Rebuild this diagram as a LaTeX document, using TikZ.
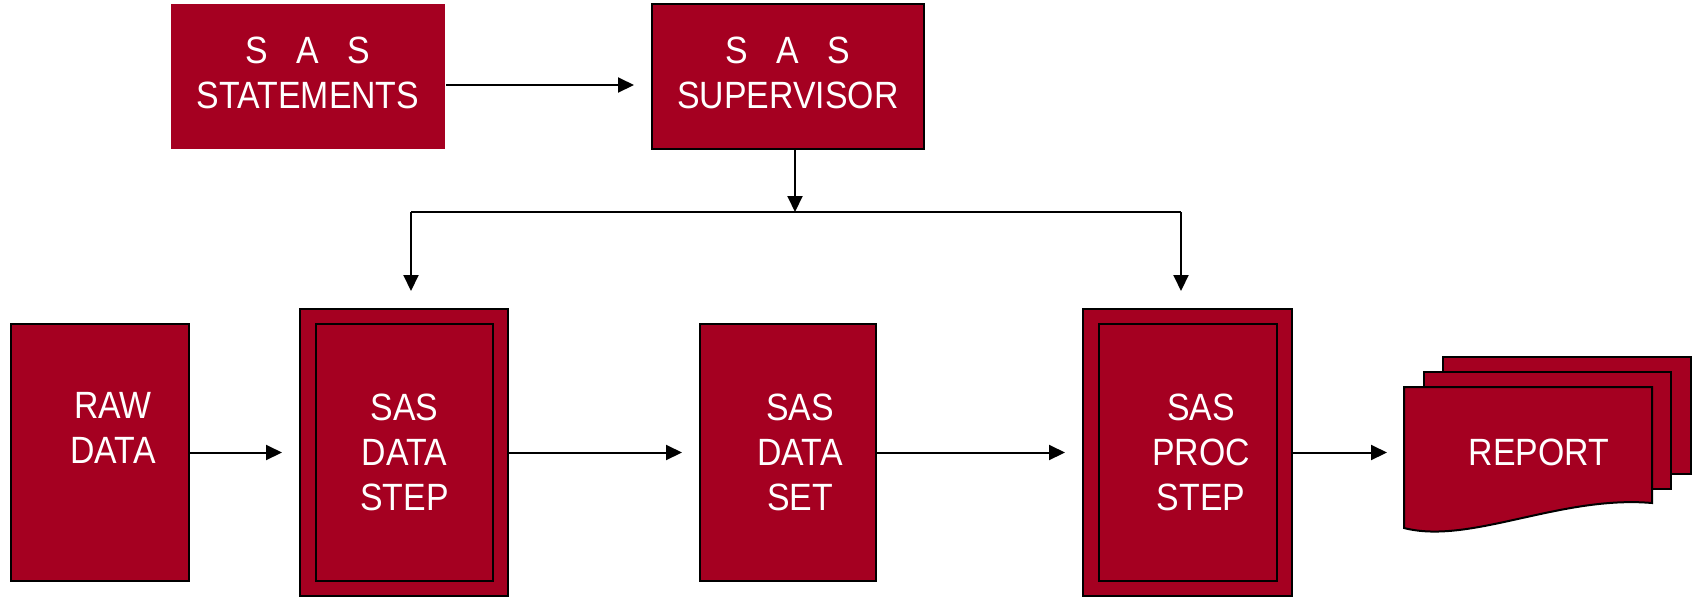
\documentclass[tikz,border=0pt]{standalone}
\usepackage{fontspec}
\setmainfont[FakeStretch=0.89]{Liberation Sans}
\usetikzlibrary{arrows.meta}
\definecolor{sasred}{RGB}{165,0,33}
\begin{document}
\begin{tikzpicture}[x=0.5pt,y=-0.5pt,
  box/.style={fill=sasred, draw=black, line width=1pt, inner sep=0pt, text=white, align=center,
    font=\fontsize{19}{22.5}\selectfont},
  plainbox/.style={box, draw=none},
  txt/.style={inner sep=0pt, text=white, align=center, font=\fontsize{19}{22.5}\selectfont},
  page/.style={fill=sasred, draw=black, line width=1pt},
  conn/.style={line width=1pt, -{Triangle[length=8pt,width=7.5pt]}, shorten >=8.5pt},
  wire/.style={line width=1pt}
]
\useasboundingbox (0,0) rectangle (1692,596);
\clip (0,0) rectangle (1692,596);

% top row
\node[plainbox, minimum width=137pt, minimum height=72.5pt, text depth=4pt] (stm) at (308,76.5)
  {S\ \ \ A\ \ \ S\\STATEMENTS};
\node[box, minimum width=136pt, minimum height=72.5pt, text depth=4pt] (sup) at (788,76.5)
  {S\ \ \ A\ \ \ S\\SUPERVISOR};

% bottom row
\node[box, minimum width=89pt, minimum height=128.5pt] (raw) at (100,452.5) {};
\node[txt] (rawt) at (113,428) {RAW\\DATA};

\node[box, minimum width=104pt, minimum height=143.5pt] (dstep) at (404,452.5) {};
\node[box, minimum width=88.5pt, minimum height=128.5pt] (dstepin) at (404.5,452.5) {SAS\\DATA\\STEP};

\node[box, minimum width=88pt, minimum height=128.5pt] (dset) at (788,452.5) {};
\node[txt] (dsett) at (800,452) {SAS\\DATA\\SET};

\node[box, minimum width=104.5pt, minimum height=143.5pt] (pstep) at (1187.5,452.5) {};
\node[box, minimum width=89pt, minimum height=128.5pt] (pstepin) at (1188,452.5) {};
\node[txt] (pstept) at (1201,452) {SAS\\PROC\\STEP};

% report (multiple documents)
\draw[page] (1443,357) rectangle (1691,474);
\draw[page] (1424,372) rectangle (1671,489);
\draw[page] (1404,387) -- (1652,387) -- (1652,503)
  .. controls (1560,495) and (1470,545) .. (1404,528) -- cycle;
\node[txt] (report) at (1539,452) {REPORT};
\coordinate (repin) at (1404,452.5);

% connectors
\draw[conn] ([yshift=-4.25pt]stm.east) -- ([yshift=-4.25pt]sup.west);
\coordinate (j) at (795,212);
\coordinate (jl) at (411,212);
\coordinate (jr) at (1181,212);
\draw[line width=1pt, -{Triangle[length=8pt,width=7.5pt]}] (j |- sup.south) -- (j);
\draw[wire] (jl) -- (jr);
\draw[conn] (jl) -- (jl |- dstep.north);
\draw[conn] (jr) -- (jr |- pstep.north);

\draw[conn] (raw.east) -- (dstep.west);
\draw[conn] (dstep.east) -- (dset.west);
\draw[conn] (dset.east) -- (pstep.west);
\draw[conn] (pstep.east) -- (repin);
\end{tikzpicture}
\end{document}
